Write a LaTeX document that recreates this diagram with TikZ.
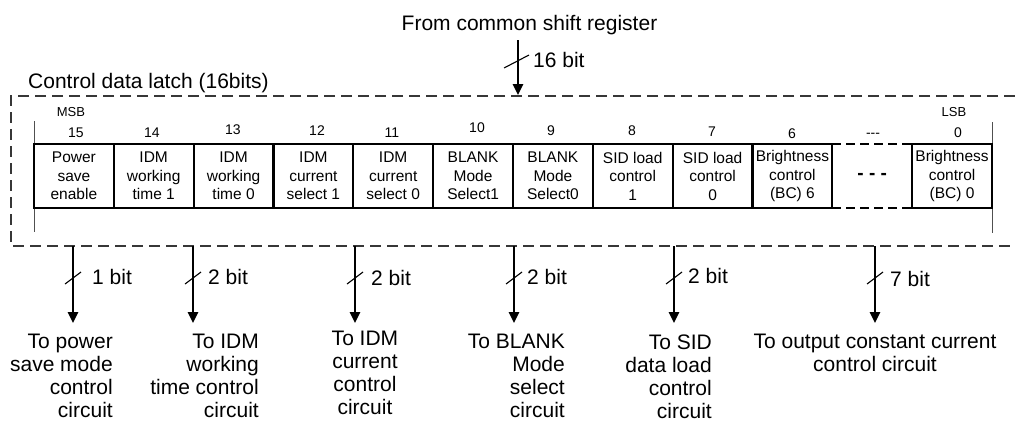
\documentclass[tikz,border=0pt]{standalone}
\usepackage{fontspec}
\setmainfont{Liberation Sans}
\usetikzlibrary{arrows.meta}
\newcommand\cellfnt{\fontsize{15.5}{18.5}\selectfont}
\newcommand\lblfnt{\fontsize{21}{23}\selectfont}
\newcommand\numfnt{\fontsize{14}{16}\selectfont}
\newcommand\msbfnt{\fontsize{13}{15}\selectfont}
\definecolor{dashgray}{RGB}{55,55,55}
\definecolor{sidegray}{RGB}{80,80,80}
\begin{document}
\begin{tikzpicture}[x=1pt,y=-1pt,
  cell/.style={draw, line width=2pt, minimum width=79.83pt, minimum height=64pt,
    inner sep=0pt, align=center, font=\cellfnt},
  emptycell/.style={minimum width=79.83pt, minimum height=64pt, inner sep=0pt},
  dashcell/.style={line width=2pt, dash pattern=on 9pt off 5pt},
  latchbox/.style={draw=dashgray, line width=1.3pt, dash pattern=on 11pt off 6pt},
  sideline/.style={draw=sidegray, line width=1pt},
  bus/.style={line width=2.5pt, -{Triangle[width=10pt,length=11pt]}},
  slash/.style={line width=1.1pt},
  lbl/.style={font=\lblfnt, inner sep=0pt},
  num/.style={font=\numfnt, inner sep=0pt, anchor=base},
  msb/.style={font=\msbfnt, inner sep=0pt, anchor=base},
  dest/.style={font=\lblfnt, inner sep=0pt}
]
\useasboundingbox (0,0) rectangle (1015,426);

% titles
\node[lbl, anchor=base] (title) at (529.5,30) {From common shift register};
\node[lbl, anchor=base west] (latchname) at (28,88) {Control data latch (16bits)};

% outer dashed latch outline (open on the right)
\draw[latchbox] (1015,96) -- (11,96) -- (11,246) -- (1015,246);

% side lines of the register
\draw[sideline] (34,121) -- (34,232);
\draw[sideline] (992,122) -- (992,233);

% register cells
\node[cell] (c15) at (73.9,176) {Power\\save\\enable};
\node[cell] (c14) at (153.7,176) {IDM\\working\\time 1};
\node[cell] (c13) at (233.6,176) {IDM\\working\\time 0};
\node[cell] (c12) at (313.4,176) {IDM\\current\\select 1};
\node[cell] (c11) at (393.2,176) {IDM\\current\\select 0};
\node[cell] (c10) at (473.1,176) {BLANK\\Mode\\Select1};
\node[cell] (c9) at (552.9,176) {BLANK\\Mode\\Select0};
\node[cell] (c8) at (632.7,176) {SID load\\control\\1};
\node[cell] (c7) at (712.6,176) {SID load\\control\\0};
\node[cell] (c6) at (792.4,176) {Brightness\\control\\(BC) 6};
\node[emptycell] (cdots) at (872.2,176) {\fontsize{19}{19}\selectfont\bfseries -\ -\ -};
\node[cell] (c0) at (952.1,176) {Brightness\\control\\(BC) 0};
\draw[dashcell] (cdots.north west) -- (cdots.north east);
\draw[dashcell] (cdots.south west) -- (cdots.south east);

% bit numbers
\node[msb] (msb) at (71,116) {MSB};
\node[msb] (lsb) at (954,116) {LSB};
\node[num] (n15) at (76,137) {15};
\node[num] (n14) at (152,137) {14};
\node[num] (n13) at (233,134) {13};
\node[num] (n12) at (317,135) {12};
\node[num] (n11) at (392,137) {11};
\node[num] (n10) at (477,132) {10};
\node[num] (n9) at (551,135) {9};
\node[num] (n8) at (632,135) {8};
\node[num] (n7) at (712,136) {7};
\node[num] (n6) at (792,138) {6};
\node[num] (ndots) at (873,137) {-{}-{}-};
\node[num] (n0) at (958,137) {0};

% input bus
\coordinate (inS) at (518,40);
\coordinate (inE) at (518,95);
\draw[bus] (inS) -- (inE);
\draw[slash] (504,68) -- (529,55);
\node[lbl, anchor=base west] (w16) at (533,67) {16 bit};

% output buses
\coordinate (o1) at (73,246);  \coordinate (e1) at (73,323);
\coordinate (o2) at (193,246); \coordinate (e2) at (193,323);
\coordinate (o3) at (355,246); \coordinate (e3) at (355,323);
\coordinate (o4) at (514,246); \coordinate (e4) at (514,323);
\coordinate (o5) at (674,246); \coordinate (e5) at (674,323);
\coordinate (o6) at (875,246); \coordinate (e6) at (875,323);
\foreach \i in {1,...,6} {
  \draw[bus] (o\i) -- (e\i);
}
\foreach \x in {73,193,355,514,674,875} {
  \draw[slash] (\x-8,284) -- (\x+8,272);
}
\node[lbl, anchor=base west] (w1) at (92,284) {1 bit};
\node[lbl, anchor=base west] (w2) at (208,284) {2 bit};
\node[lbl, anchor=base west] (w3) at (371,285) {2 bit};
\node[lbl, anchor=base west] (w4) at (527,284) {2 bit};
\node[lbl, anchor=base west] (w5) at (688,283) {2 bit};
\node[lbl, anchor=base west] (w6) at (890,286) {7 bit};

% destinations
\node[dest, align=right, anchor=north east] (d1) at (113,334) {To power\\save mode\\control\\circuit};
\node[dest, align=right, anchor=north east] (d2) at (259,334) {To IDM\\working\\time control\\circuit};
\node[dest, align=center, anchor=north] (d3) at (365,331) {To IDM\\current\\control\\circuit};
\node[dest, align=right, anchor=north east] (d4) at (565,334) {To BLANK\\Mode\\select\\circuit};
\node[dest, align=right, anchor=north east] (d5) at (712,335) {To SID\\data load\\control\\circuit};
\node[dest, align=center, anchor=north] (d6) at (875,334) {To output constant current\\control circuit};
\end{tikzpicture}
\end{document}
